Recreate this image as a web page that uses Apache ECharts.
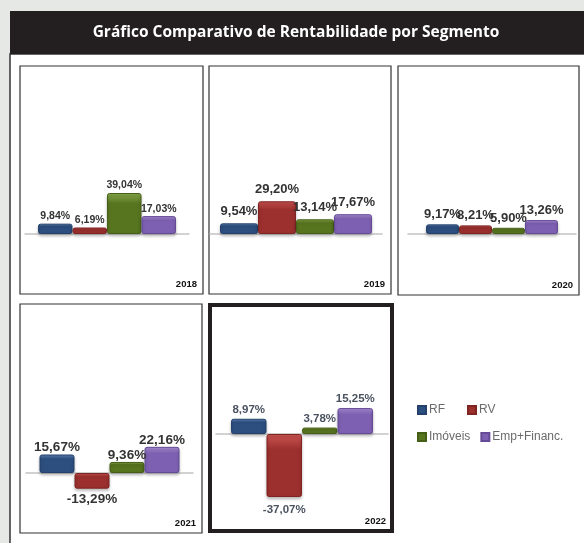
<!DOCTYPE html>
<html>
<head>
<meta charset="utf-8">
<script src="https://cdn.jsdelivr.net/npm/echarts@6/dist/echarts.min.js"></script>
<style>
  html, body { margin: 0; padding: 0; background: #e6e8e6; }
  #chart { width: 584px; height: 543px; }
</style>
</head>
<body>
<div id="chart"></div>
<script>
// dados
const years = ['2018', '2019', '2020', '2021', '2022']
const segments = ['RF', 'RV', 'Imóveis', 'Emp+Financ.']
const rf = [9.84, 9.54, 9.17, 15.67, 8.97]
const rv = [6.19, 29.20, 8.21, -13.29, -37.07]
const imoveis = [39.04, 13.14, 5.90, 9.36, 3.78]
const empFinanc = [17.03, 17.67, 13.26, 22.16, 15.25]

const values = [rf, rv, imoveis, empFinanc]

// cores (topo claro -> base escura)
const colors = [
  ['#5d84b8', '#2c4f80', '#24416b'],
  ['#cc5451', '#9b302e', '#7e2422'],
  ['#89ac4d', '#57751f', '#465f18'],
  ['#ad90da', '#7d60b2', '#654a96']
]

// layout de cada painel
const panels = [
  { x: 20, y: 66, w: 183, h: 228, grid: { left: 25, width: 164, top: 171, height: 84 }, min: -20, max: 60, bw: 34.5, fs: 10.5, dist: 2 },
  { x: 209, y: 66, w: 182, h: 228, grid: { left: 210, width: 172, top: 189.2, height: 67.2 }, min: -20, max: 40, bw: 38, fs: 13, dist: 5 },
  { x: 398, y: 66, w: 181, h: 229, grid: { left: 408, width: 168, top: 171, height: 84 }, min: -20, max: 60, bw: 33, fs: 13, dist: 3 },
  { x: 20, y: 304, w: 182, h: 229, grid: { left: 26, width: 167, top: 437.6, height: 59 }, min: -20, max: 30, bw: 35, fs: 13.5, dist: 0 },
  { x: 210, y: 305, w: 182, h: 226, grid: { left: 216, width: 172, top: 400, height: 102 }, min: -40, max: 20, bw: 35.5, fs: 11.5, dist: 3 }
]

const fmt = v => v.toFixed(2).replace('.', ',') + '%'

const chart = echarts.init(document.getElementById('chart'))

const grids = [], xAxes = [], yAxes = [], series = []
panels.forEach((p, i) => {
  grids.push(p.grid)
  xAxes.push({
    type: 'category', gridIndex: i, data: [years[i]],
    axisLine: { lineStyle: { color: '#c4c4c4', width: 1.5 } },
    axisTick: { show: false }, axisLabel: { show: false }
  })
  yAxes.push({ type: 'value', gridIndex: i, min: p.min, max: p.max, show: false, splitLine: { show: false } })
  segments.forEach((name, j) => {
    const v = values[j][i]
    series.push({
      name: name,
      type: 'bar',
      xAxisIndex: i, yAxisIndex: i,
      barWidth: p.bw, barGap: '0%',
      itemStyle: {
        color: new echarts.graphic.LinearGradient(0, 0, 0, 1, [
          { offset: 0, color: colors[j][0] },
          { offset: 0.25, color: colors[j][1] },
          { offset: 1, color: colors[j][1] }
        ]),
        borderColor: colors[j][2], borderWidth: 1, borderRadius: 2,
        shadowColor: 'rgba(0,0,0,0.25)', shadowBlur: 3, shadowOffsetY: 2
      },
      label: {
        show: true,
        position: v >= 0 ? 'top' : 'bottom',
        distance: v >= 0 ? p.dist : p.dist + 4,
        formatter: d => fmt(d.value),
        fontFamily: 'Liberation Sans', fontWeight: 'bold', fontSize: p.fs,
        color: i === 4 ? '#4a5260' : '#333'
      },
      data: [v]
    })
  })
})

// molduras, faixa do título e rótulos dos anos
const graphics = [
  { type: 'rect', z: -10, shape: { x: 10, y: 54, width: 580, height: 495 }, style: { fill: '#fff', stroke: '#333', lineWidth: 1.5 } },
  { type: 'rect', z: -9, shape: { x: 10, y: 11, width: 580, height: 43 }, style: { fill: '#231f20' } },
  { type: 'text', x: 296, y: 33, style: { text: 'Gráfico Comparativo de Rentabilidade por Segmento', fill: '#fff', font: 'bold 15.5px "Open Sans"', textAlign: 'center', textVerticalAlign: 'middle' } }
]
panels.forEach((p, i) => {
  const thick = i === 4
  graphics.push({ type: 'rect', z: -8, shape: { x: p.x, y: p.y, width: p.w, height: p.h }, style: { fill: 'none', stroke: thick ? '#231f20' : '#333', lineWidth: thick ? 4 : 1.2 } })
  graphics.push({ type: 'text', x: p.x + p.w - 6, y: p.y + p.h - 10, style: { text: years[i], fill: '#111', font: 'bold 9.5px "Liberation Sans"', textAlign: 'right', textVerticalAlign: 'middle' } })
})

const legendBase = {
  icon: 'rect', itemWidth: 8, itemHeight: 8, orient: 'horizontal',
  textStyle: { color: '#6b6b6b', fontSize: 12, fontFamily: 'Liberation Sans', padding: [0, 0, 0, -2] },
  selectedMode: false
}

const option = {
  animation: false,
  grid: grids,
  xAxis: xAxes,
  yAxis: yAxes,
  legend: [
    Object.assign({}, legendBase, { data: ['RF', 'RV'], left: 412, top: 399, itemGap: 22 }),
    Object.assign({}, legendBase, { data: ['Imóveis', 'Emp+Financ.'], left: 412, top: 426, itemGap: 10 })
  ],
  graphic: graphics,
  series: series
}
option && chart.setOption(option)
</script>
</body>
</html>
